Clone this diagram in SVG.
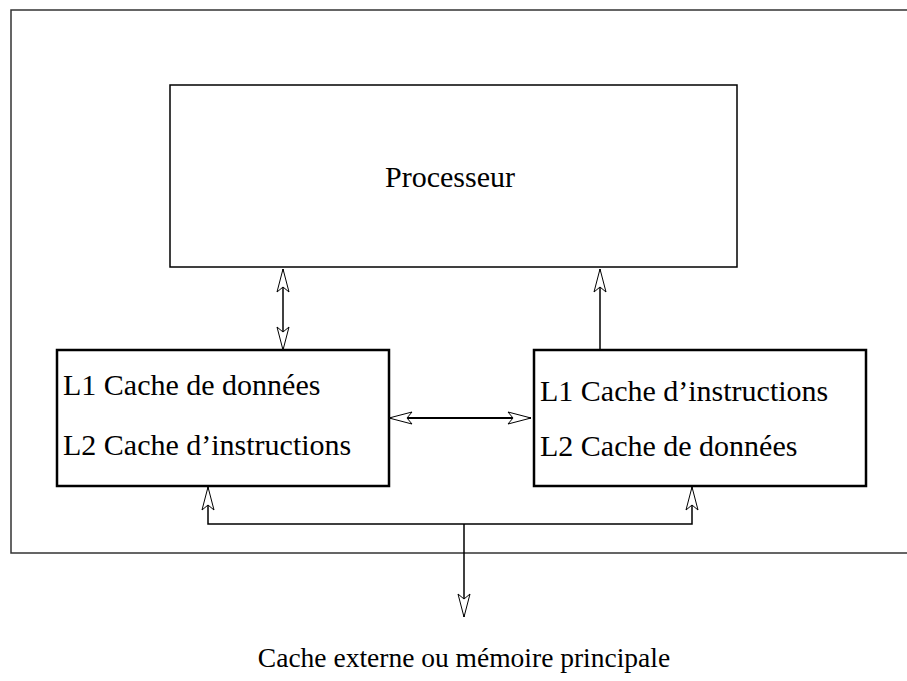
<svg xmlns="http://www.w3.org/2000/svg" width="907" height="681" viewBox="0 0 907 681">
<style>
.box{fill:none;stroke:#000;stroke-width:2.5}
.pbox{fill:none;stroke:#000;stroke-width:1.5}
.frame{fill:none;stroke:#333;stroke-width:1.5}
.ln{fill:none;stroke:#000;stroke-width:1.5}
.thick{stroke-width:2.2}
.t{font-family:"Liberation Serif","Times New Roman",serif;font-size:30px;fill:#000}
.b{font-size:27.5px}
</style>
<defs>
<marker id="ah" markerUnits="userSpaceOnUse" markerWidth="30" markerHeight="16" viewBox="-25 -8 30 16" refX="0" refY="0" orient="auto-start-reverse" overflow="visible">
<path d="M0,0 L-23,-6 L-18,0 L-23,6 Z" fill="#fff" stroke="#000" stroke-width="1"/>
</marker>
</defs>
<rect class="frame" x="11" y="10" width="905" height="543"/>
<g id="processeur">
<rect class="pbox" x="170" y="85" width="567" height="182"/>
<text class="t" x="450" y="187" text-anchor="middle">Processeur</text>
</g>
<g id="cache-gauche">
<rect class="box" x="57" y="350" width="332" height="136"/>
<text class="t" x="63" y="395">L1 Cache de données</text>
<text class="t" x="63" y="455">L2 Cache d’instructions</text>
</g>
<g id="cache-droite">
<rect class="box" x="534" y="350" width="332" height="136"/>
<text class="t" x="540" y="401">L1 Cache d’instructions</text>
<text class="t" x="540" y="456">L2 Cache de données</text>
</g>
<g id="memoire">
<text class="t b" x="464" y="667" text-anchor="middle">Cache externe ou mémoire principale</text>
</g>
<g id="connecteurs">
<line class="ln" x1="283" y1="350" x2="283" y2="269" marker-start="url(#ah)" marker-end="url(#ah)"/>
<line class="ln" x1="600" y1="350" x2="600" y2="269" marker-end="url(#ah)"/>
<line class="ln thick" x1="389" y1="418" x2="531" y2="418" marker-start="url(#ah)" marker-end="url(#ah)"/>
<path class="ln" d="M208,487 L208,524 L692,524 L692,487" marker-start="url(#ah)" marker-end="url(#ah)"/>
<line class="ln" x1="464" y1="524" x2="464" y2="617" marker-end="url(#ah)"/>
</g>
</svg>
